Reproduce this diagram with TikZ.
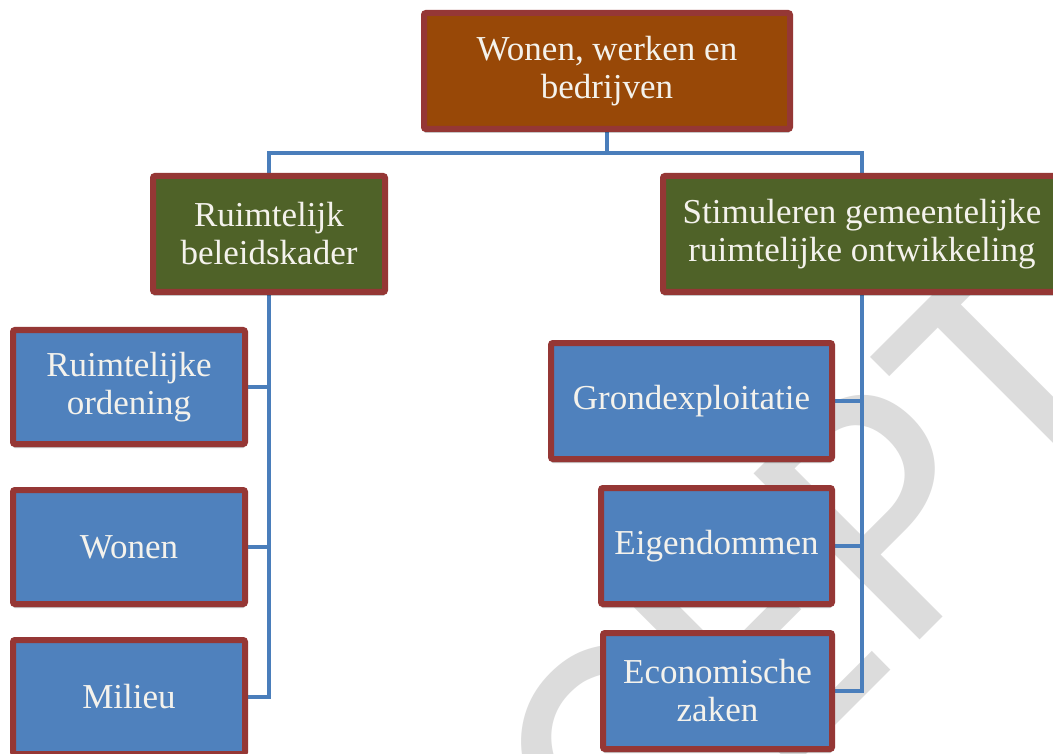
\documentclass[tikz,border=0pt]{standalone}
\usepackage{fontspec}
\setmainfont{Liberation Serif}
\newfontfamily\wmfont{Carlito}
\usetikzlibrary{shadows}
\definecolor{bordred}{HTML}{953735}
\definecolor{brownfill}{HTML}{984807}
\definecolor{greenfill}{HTML}{4F6228}
\definecolor{bluefill}{HTML}{4F81BD}
\definecolor{linkblue}{HTML}{4A7EBB}
\definecolor{wmgray}{HTML}{DCDCDC}
\definecolor{txt}{HTML}{F4F2EC}
\pgfdeclarelayer{wm}
\pgfdeclarelayer{bg}
\pgfsetlayers{wm,bg,main}
\begin{document}
\begin{tikzpicture}[x=1pt,y=-1pt,
  box/.style={draw=bordred, line width=6pt, rounded corners=2pt, inner sep=0pt,
    align=center, text=txt, font=\fontsize{35}{38}\selectfont,
    minimum height=116pt,
    drop shadow={shadow xshift=0pt, shadow yshift=-4pt, opacity=0.22, fill=black}},
  brownbox/.style={box, fill=brownfill},
  greenbox/.style={box, fill=greenfill},
  bluebox/.style={box, fill=bluefill},
  link/.style={draw=linkblue, line width=4pt, line join=miter},
  watermark/.style={rotate=45, anchor=base east, inner sep=0pt, text=wmgray,
    font=\wmfont\fontsize{366}{366}\selectfont}
]
\useasboundingbox (0,0) rectangle (1053,754);

% nodes
\node[brownbox, minimum width=366pt] (top) at (607,71) {Wonen, werken en\\bedrijven};
\node[greenbox, minimum width=232pt] (lg) at (269,234) {Ruimtelijk\\beleidskader};
\node[greenbox, minimum width=398pt] (rg) at (862,234) {Stimuleren gemeentelijke\\ruimtelijke ontwikkeling};

\node[bluebox, minimum width=232pt, minimum height=114pt] (ro) at (129,387) {Ruimtelijke\\ordening};
\node[bluebox, minimum width=232pt, minimum height=114pt] (wo) at (129,547) {Wonen};
\node[bluebox, minimum width=232pt, minimum height=114pt] (mi) at (129,697) {Milieu};

\node[bluebox, minimum width=281pt] (gr) at (691.5,401) {Grondexploitatie};
\node[bluebox, minimum width=231pt] (ei) at (716.5,546) {Eigendommen};
\node[bluebox, minimum width=229pt] (ec) at (717.5,691) {Economische\\zaken};

% watermark
\begin{pgfonlayer}{wm}
\fill[white] (0,0) rectangle (1053,754);
\node[watermark] (wmtext) at (1160,400) {CONCEPT};
\end{pgfonlayer}

% connectors
\begin{pgfonlayer}{bg}
\draw[link] (top.south) -- ++(0,21) coordinate (j) -| (lg.north);
\draw[link] (j) -| (rg.north);
\draw[link] (lg.south) |- (ro.east);
\draw[link] (lg.south) |- (wo.east);
\draw[link] (lg.south) |- (mi.east);
\draw[link] (rg.south) |- (gr.east);
\draw[link] (rg.south) |- (ei.east);
\draw[link] (rg.south) |- (ec.east);
\end{pgfonlayer}
\end{tikzpicture}
\end{document}
